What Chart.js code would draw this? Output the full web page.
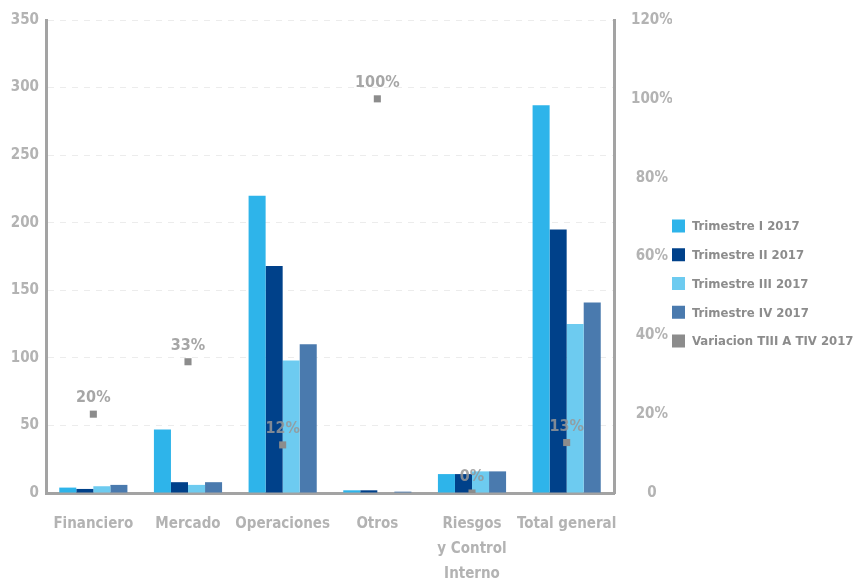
<!DOCTYPE html>
<html>
<head>
<meta charset="utf-8">
<script src="https://cdn.jsdelivr.net/npm/chart.js@4"></script>
<style>
  html, body { margin: 0; padding: 0; background: #ffffff; }
  #wrap { width: 858px; height: 579px; position: relative; }
</style>
</head>
<body>
<div id="wrap"><canvas id="chart"></canvas></div>
<script>
// Categories and quarterly counts
const categories = ['Financiero', 'Mercado', 'Operaciones', 'Otros', ['Riesgos', 'y Control', 'Interno'], 'Total general'];
const trimestre1 = [4, 47, 220, 2, 14, 287];
const trimestre2 = [3, 8, 168, 2, 14, 195];
const trimestre3 = [5, 6, 98, 0, 16, 125];
const trimestre4 = [6, 8, 110, 1, 16, 141];
// Variation from quarter III to quarter IV (percent)
const variacion = [20, 33.3, 12.2, 100, 0, 12.8];

const leftTicks = [0, 50, 100, 150, 200, 250, 300, 350];
const rightTicks = [0, 20, 40, 60, 80, 100, 120];

const FONT = "'Liberation Sans Narrow', 'DejaVu Sans Condensed', 'Arial Narrow', sans-serif";
const AXIS_GREY = '#a3a3a3';
const TEXT_GREY = '#b3b3b3';

// Percent labels above the variation markers
const pointLabels = {
  id: 'pointLabels',
  afterDatasetsDraw(chart) {
    const ctx = chart.ctx;
    const meta = chart.getDatasetMeta(4);
    ctx.save();
    ctx.font = 'bold 16px ' + FONT;
    ctx.fillStyle = 'rgba(150,150,150,0.85)';
    ctx.textAlign = 'center';
    ctx.textBaseline = 'middle';
    meta.data.forEach((pt, i) => {
      ctx.fillText(Math.round(variacion[i]) + '%', pt.x, pt.y - 16);
    });
    ctx.restore();
  }
};

// Legend column at the right of the plot
const sideLegend = {
  id: 'sideLegend',
  afterDraw(chart) {
    const ctx = chart.ctx;
    const x0 = chart.chartArea.right + 58;
    const y0 = 226;
    const step = 28.75;
    ctx.save();
    ctx.font = 'bold 13px ' + FONT;
    ctx.textAlign = 'left';
    ctx.textBaseline = 'middle';
    chart.data.datasets.forEach((ds, i) => {
      const y = y0 + i * step;
      ctx.fillStyle = ds.backgroundColor;
      ctx.fillRect(x0, y - 6.5, 13, 13);
      ctx.fillStyle = '#8c8c8c';
      ctx.fillText(ds.label, x0 + 20, y + 1);
    });
    ctx.restore();
  }
};

// Value axes keep a fixed width and no extra head room
function fixedWidth(w) {
  return scale => {
    scale.width = w;
    scale.paddingTop = 0;
    scale.paddingBottom = 0;
  };
}

new Chart(document.getElementById('chart'), {
  type: 'bar',
  data: {
    labels: categories,
    datasets: [
      { label: 'Trimestre I 2017', data: trimestre1, backgroundColor: '#2eb4ea', borderWidth: 0, yAxisID: 'y', order: 2 },
      { label: 'Trimestre II 2017', data: trimestre2, backgroundColor: '#00418a', borderWidth: 0, yAxisID: 'y', order: 2 },
      { label: 'Trimestre III 2017', data: trimestre3, backgroundColor: '#6dcbf0', borderWidth: 0, yAxisID: 'y', order: 2 },
      { label: 'Trimestre IV 2017', data: trimestre4, backgroundColor: '#4a7aae', borderWidth: 0, yAxisID: 'y', order: 2 },
      {
        label: 'Variacion TIII A TIV 2017', type: 'line', data: variacion, yAxisID: 'y1', order: 1,
        showLine: false, pointStyle: 'rect', pointRadius: 5, pointHoverRadius: 5,
        backgroundColor: '#8c8c8c', borderColor: '#8c8c8c', borderWidth: 0,
        pointBackgroundColor: '#8c8c8c', pointBorderWidth: 0
      }
    ]
  },
  options: {
    responsive: true,
    maintainAspectRatio: false,
    animation: false,
    layout: { padding: { top: 20, left: 0, right: 186, bottom: 0 } },
    datasets: { bar: { categoryPercentage: 0.72, barPercentage: 1.0 } },
    plugins: {
      tooltip: { enabled: false },
      legend: { display: false }
    },
    scales: {
      x: {
        grid: { display: false },
        border: { display: true, color: AXIS_GREY, width: 3 },
        ticks: {
          font: { family: FONT, size: 15, weight: 'bold', lineHeight: 1.65 },
          color: TEXT_GREY,
          padding: 11,
          maxRotation: 0,
          autoSkip: false
        },
        afterFit(scale) { scale.height = 86; }
      },
      y: {
        position: 'left',
        min: 0, max: 350,
        afterBuildTicks(scale) { scale.ticks = leftTicks.map(v => ({ value: v })); },
        grid: { color: '#ececec', drawTicks: false, lineWidth: 1 },
        border: { display: true, color: AXIS_GREY, width: 3, dash: [6, 6] },
        ticks: {
          font: { family: FONT, size: 15, weight: 'bold' },
          color: TEXT_GREY,
          padding: 7
        },
        afterFit: fixedWidth(46)
      },
      y1: {
        position: 'right',
        min: 0, max: 120,
        afterBuildTicks(scale) { scale.ticks = rightTicks.map(v => ({ value: v })); },
        grid: { display: false, drawOnChartArea: false, drawTicks: false },
        border: { display: true, color: AXIS_GREY, width: 3 },
        ticks: {
          font: { family: FONT, size: 15, weight: 'bold' },
          color: TEXT_GREY,
          padding: 17,
          crossAlign: 'center',
          callback: v => v === 0 ? '0' : v + '%'
        },
        afterFit: fixedWidth(58)
      }
    }
  },
  plugins: [pointLabels, sideLegend]
});
</script>
</body>
</html>
